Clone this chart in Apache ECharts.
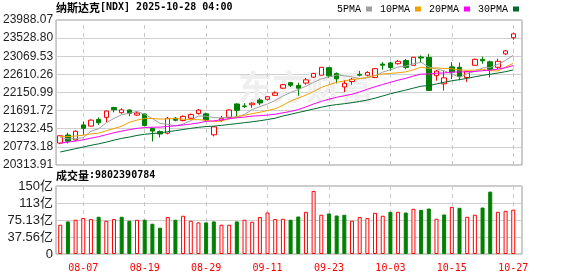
<!DOCTYPE html>
<html><head><meta charset="utf-8">
<script src="https://cdn.jsdelivr.net/npm/echarts@6/dist/echarts.min.js"></script>
<style>html,body{margin:0;padding:0;background:#fff}#c{width:578px;height:276px}</style>
</head><body><div id="c"></div>
<script>
const dates = ['08-04','08-05','08-06','08-07','08-08','08-11','08-12','08-13','08-14','08-15','08-18','08-19','08-20','08-21','08-22','08-25','08-26','08-27','08-28','08-29','09-02','09-03','09-04','09-05','09-08','09-09','09-10','09-11','09-12','09-15','09-16','09-17','09-18','09-19','09-22','09-23','09-24','09-25','09-26','09-29','09-30','10-01','10-02','10-03','10-06','10-07','10-08','10-09','10-10','10-13','10-14','10-15','10-16','10-17','10-20','10-21','10-22','10-23','10-24','10-27'];
const labelDates = ['08-07','08-19','08-29','09-11','09-23','10-03','10-15','10-27'];
const prevClose = 20650;
const opens = [20870,21074,20950,21330,21300,21470,21520,21770,21640,21707,21580,21606,21240,21160,21120,21500,21440,21500,21620,21610,21080,21440,21520,21860,21810,21840,21960,21980,22080,22260,22400,22330,22390,22540,22590,22780,22630,22290,22430,22610,22590,22530,22870,22900,22880,22960,22840,23050,23040,22580,22370,22800,22790,22530,22840,22990,22930,22790,23130,23540];
const closes = [21054,20917,21169,21243,21450,21385,21682,21713,21711,21623,21630,21315,21173,21100,21497,21449,21544,21590,21705,21456,21280,21498,21708,21700,21799,21879,21886,22043,22141,22349,22334,22261,22471,22631,22789,22573,22498,22385,22484,22591,22660,22755,22844,22781,22942,22788,23043,23025,22204,22695,22522,22670,22563,22680,22991,22954,22740,22942,23205,23637];
const lows = [20840,20860,20930,21080,21290,21330,21400,21650,21610,21550,21560,21290,20910,21010,21090,21420,21420,21480,21590,21410,21040,21410,21500,21520,21760,21760,21830,21950,22060,22250,22290,22070,22350,22520,22580,22520,22380,22160,22350,22560,22560,22520,22730,22700,22860,22740,22830,22910,22190,22450,22200,22490,22460,22420,22830,22880,22530,22750,23100,23490];
const highs = [21070,21130,21190,21410,21470,21520,21690,21790,21750,21720,21660,21620,21260,21190,21530,21530,21570,21620,21730,21640,21290,21560,21720,21880,21880,21900,22010,22060,22180,22370,22420,22400,22520,22650,22800,22800,22660,22460,22520,22700,22690,22770,22920,22930,22980,23000,23050,23090,23130,22720,22700,22920,22910,22700,23010,23060,22960,23010,23230,23670];
const ma5 = [21011,20975,20982,21007,21167,21233,21386,21495,21588,21623,21672,21598,21490,21368,21343,21307,21353,21436,21557,21549,21515,21506,21529,21528,21597,21717,21794,21861,21950,22060,22151,22226,22311,22409,22497,22545,22592,22575,22546,22506,22524,22575,22667,22726,22796,22822,22880,22916,22800,22751,22698,22623,22531,22626,22685,22772,22786,22861,22966,23096];
const ma10 = [21031,21034,21049,21067,21101,21122,21180,21239,21297,21395,21452,21492,21493,21478,21483,21489,21476,21463,21463,21446,21411,21429,21483,21543,21573,21616,21650,21695,21739,21828,21934,22010,22086,22179,22278,22348,22409,22443,22478,22502,22534,22584,22621,22636,22651,22673,22727,22791,22763,22774,22760,22751,22723,22713,22718,22735,22704,22696,22796,22890];
const ma20 = [20868,20893,20921,20952,20995,21032,21082,21131,21173,21209,21242,21263,21271,21273,21292,21306,21328,21351,21380,21420,21432,21461,21488,21510,21528,21553,21563,21579,21601,21637,21672,21720,21785,21861,21926,21982,22030,22069,22108,22165,22234,22297,22354,22408,22465,22510,22568,22617,22620,22638,22647,22668,22672,22675,22685,22704,22716,22744,22780,22832];
const ma30 = [20643,20686,20728,20770,20813,20850,20894,20944,20988,21022,21063,21093,21111,21127,21157,21184,21213,21242,21269,21288,21298,21318,21341,21363,21386,21409,21435,21466,21500,21556,21599,21644,21687,21733,21778,21818,21845,21867,21893,21925,21960,22008,22063,22119,22168,22212,22262,22310,22327,22368,22409,22448,22477,22510,22549,22585,22614,22644,22679,22722];
const volumes = [64.7,72.0,75.7,79.4,77.2,82.3,73.5,77.2,82.3,73.5,75.7,75.7,66.9,58.1,81.6,75.7,84.5,73.5,69.8,69.8,72.0,64.7,64.7,72.0,75.7,71.3,81.6,91.7,77.2,77.9,75.7,82.9,93.2,139.3,86.7,89.5,85.1,86.7,73.5,81.6,79.4,91.0,84.5,93.2,93.2,91.7,99.8,97.6,100.5,77.9,87.3,104.2,102.0,82.3,86.7,102.7,137.8,93.2,95.4,98.02390784];
const yTicksMain = [20313.91, 23988.07, 459.27];
const yTicksVol = [0, 150.26, 37.565];
const lastVolume = '9802390784';

const RED = '#ff0000', GREEN = '#008000';
const candleData = dates.map((d, i) => [opens[i], closes[i], lows[i], highs[i]]);
const volData = volumes.map((v, i) => {
  const prev = i === 0 ? prevClose : closes[i - 1];
  const up = closes[i] >= prev;
  return { value: v, itemStyle: up ? { color: '#fff', borderColor: RED, borderWidth: 1 } : { color: GREEN, borderColor: GREEN, borderWidth: 1 } };
});
const vLines = labelDates.map(d => ({ xAxis: d }));
const markLineStyle = { symbol: ['none', 'none'], silent: true, animation: false, z: 1, label: { show: false },
  lineStyle: { color: '#c8c8c8', type: [4, 4], width: 1 }, data: vLines };

const FL = 56, FR = 522, DL = 56.4, DW = 460.7;
const chart = echarts.init(document.getElementById('c'), null, { renderer: 'canvas' });
const labelFont = { fontFamily: 'Liberation Sans, Arial, sans-serif', fontSize: 12, color: '#222' };
chart.setOption({
  animation: false,
  backgroundColor: '#fff',
  title: [
    { text: '{a|纳斯达克}{b|[NDX] 2025-10-28 04:00}', left: 56, top: 2, padding: 0,
      textStyle: { rich: { a: { fontFamily: 'Noto Sans CJK SC', fontSize: 11, color: '#000' }, b: { fontFamily: 'DejaVu Sans Mono', fontSize: 10, color: '#000' } } } },
    { text: '{a|成交量}{b|:' + lastVolume + '}', left: 56, top: 170, padding: 0,
      textStyle: { rich: { a: { fontFamily: 'Noto Sans CJK SC', fontSize: 11, color: '#000' }, b: { fontFamily: 'DejaVu Sans Mono', fontSize: 10, color: '#000' } } } }
  ],
  legend: {
    data: ['5PMA', '10PMA', '20PMA', '30PMA'], left: 337, top: 4, padding: 0, align: 'right',
    itemWidth: 6, itemHeight: 5, itemGap: 8, icon: 'rect',
    textStyle: { fontFamily: 'Liberation Mono', fontSize: 10, color: '#000' }
  },
  graphic: [
    { type: 'text', left: 238, top: 70, z: 1, silent: true,
      style: { text: '东方财富', fontFamily: 'Noto Sans CJK SC', fontSize: 34, fontWeight: 'bold', fill: '#efefef' } }
  ],
  grid: [
    { left: FL, width: FR - FL, top: 20, height: 145, show: true, borderColor: '#999', borderWidth: 1, backgroundColor: 'transparent' },
    { left: FL, width: FR - FL, top: 186, height: 68, show: true, borderColor: '#999', borderWidth: 1, backgroundColor: 'transparent' },
    { left: DL, width: DW, top: 20, height: 145 },
    { left: DL, width: DW, top: 186, height: 68 }
  ],
  xAxis: [
    { type: 'value', gridIndex: 0, min: 0, max: 1, show: false },
    { type: 'value', gridIndex: 1, min: 0, max: 1, show: false },
    { type: 'category', gridIndex: 2, data: dates, boundaryGap: true, axisLine: { show: false }, axisTick: { show: false }, axisLabel: { show: false }, splitLine: { show: false } },
    { type: 'category', gridIndex: 3, data: dates, boundaryGap: true, axisLine: { show: false }, axisTick: { show: false }, splitLine: { show: false },
      axisLabel: { show: true, interval: (idx) => idx % 8 === 3, margin: 9, color: RED, fontFamily: 'DejaVu Sans Mono', fontSize: 10 } }
  ],
  yAxis: [
    { type: 'value', gridIndex: 0, min: yTicksMain[0], max: yTicksMain[1], interval: yTicksMain[2], scale: true,
      axisLine: { show: false }, axisTick: { show: false },
      axisLabel: Object.assign({ margin: 3, formatter: v => v.toFixed(2) }, labelFont),
      splitLine: { show: true, lineStyle: { color: '#cfcfcf', width: 1 } } },
    { type: 'value', gridIndex: 1, min: yTicksVol[0], max: yTicksVol[1], interval: yTicksVol[2],
      axisLine: { show: false }, axisTick: { show: false },
      axisLabel: Object.assign({}, labelFont, { margin: 3, fontSize: 13, fontFamily: 'Liberation Sans, Noto Sans CJK SC', formatter: v => v < 0.001 ? '0' : (v >= 100 ? Math.round(v) + '亿' : v.toFixed(2) + '亿') }),
      splitLine: { show: true, lineStyle: { color: '#cfcfcf', width: 1 } } },
    { type: 'value', gridIndex: 2, min: yTicksMain[0], max: yTicksMain[1], show: false, splitLine: { show: false } },
    { type: 'value', gridIndex: 3, min: yTicksVol[0], max: yTicksVol[1], show: false, splitLine: { show: false } }
  ],
  series: [
    { type: 'line', xAxisIndex: 2, yAxisIndex: 2, data: dates.map(() => '-'), symbol: 'none', z: 1, markLine: markLineStyle },
    { type: 'line', xAxisIndex: 3, yAxisIndex: 3, data: dates.map(() => '-'), symbol: 'none', z: 1, markLine: markLineStyle },
    { type: 'candlestick', name: 'K', xAxisIndex: 2, yAxisIndex: 2, data: candleData, barWidth: 5, z: 3,
      itemStyle: { color: '#fff', color0: GREEN, borderColor: RED, borderColor0: GREEN, borderWidth: 1 } },
    { type: 'line', name: '5PMA', xAxisIndex: 2, yAxisIndex: 2, data: ma5, symbol: 'none', z: 4, color: '#a0a0a0', lineStyle: { width: 1, color: '#a0a0a0' } },
    { type: 'line', name: '10PMA', xAxisIndex: 2, yAxisIndex: 2, data: ma10, symbol: 'none', z: 4, color: '#f0a000', lineStyle: { width: 1, color: '#f0a000' } },
    { type: 'line', name: '20PMA', xAxisIndex: 2, yAxisIndex: 2, data: ma20, symbol: 'none', z: 4, color: '#ff00ff', lineStyle: { width: 1, color: '#ff00ff' } },
    { type: 'line', name: '30PMA', xAxisIndex: 2, yAxisIndex: 2, data: ma30, symbol: 'none', z: 4, color: '#006a30', lineStyle: { width: 1, color: '#006a30' } },
    { type: 'bar', name: 'VOL', xAxisIndex: 3, yAxisIndex: 3, data: volData, barWidth: 4, z: 3 }
  ]
});
</script></body></html>
